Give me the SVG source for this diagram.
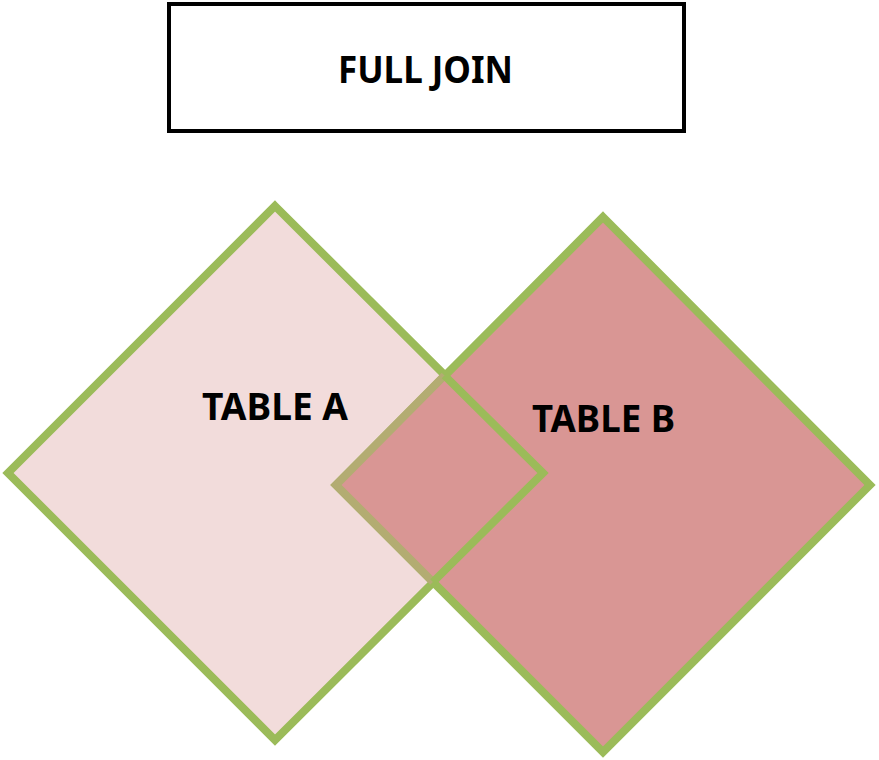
<svg xmlns="http://www.w3.org/2000/svg" width="879" height="760" viewBox="0 0 879 760">
<style>
.t{font-family:"Noto Sans","Open Sans","Liberation Sans",sans-serif;font-weight:bold;font-size:38px;fill:#000;text-anchor:middle}
.edge{fill:none;stroke-width:8;stroke-linejoin:miter}
</style>
<rect width="879" height="760" fill="#fff"/>
<g id="title">
<rect x="169" y="4" width="515" height="127" fill="#fff" stroke="#000" stroke-width="4"/>
<text class="t" x="425.5" y="83" textLength="175" lengthAdjust="spacingAndGlyphs">FULL JOIN</text>
</g>
<g id="tableA">
<polygon points="275,206 543,473 275,740 8,473" fill="#F2DCDB" stroke="#9BBB59" stroke-width="8"/>
</g>
<g id="tableB">
<polygon points="603,217 870,485 603,752 336,485" fill="#D99694" stroke="#9BBB59" stroke-width="8"/>
</g>
<g id="overlap">
<polygon points="444.5,375.5 543,473 433,582 336,485" fill="#D99694"/>
<polyline class="edge" points="444.5,375.5 336,485 433,582" stroke="#B3AC72"/>
<polyline class="edge" points="444.5,375.5 543,473 433,582" stroke="#9BBB59"/>
</g>
<text class="t" x="275" y="420" textLength="146" lengthAdjust="spacingAndGlyphs">TABLE A</text>
<text class="t" x="603.5" y="432" textLength="143" lengthAdjust="spacingAndGlyphs">TABLE B</text>
</svg>
